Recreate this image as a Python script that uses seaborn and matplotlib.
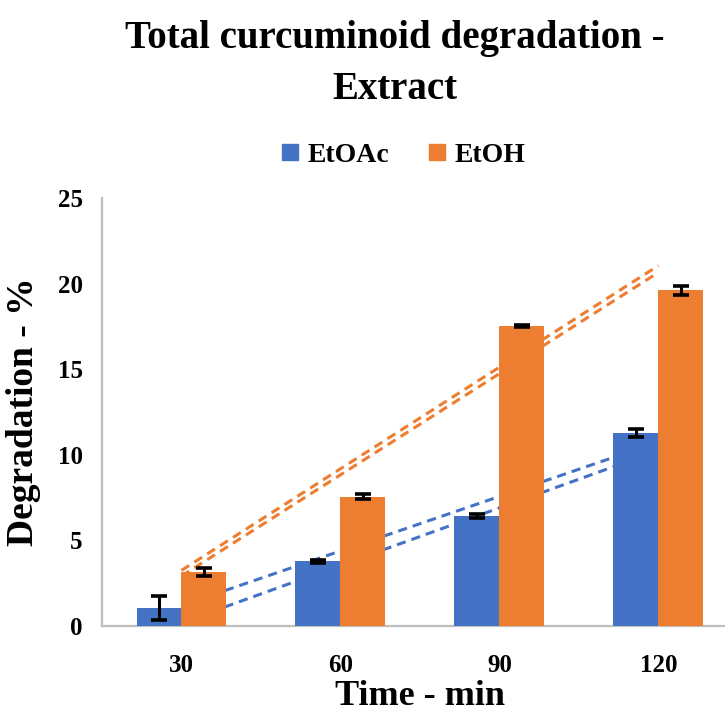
import matplotlib.pyplot as plt
import pandas as pd
import seaborn as sns
from matplotlib.lines import Line2D

# Data
times = ['30', '60', '90', '120']
etoac = [1.08, 3.78, 6.45, 11.27]
etoac_err = [0.70, 0.10, 0.12, 0.23]
etoh = [3.15, 7.55, 17.52, 19.60]
etoh_err = [0.23, 0.15, 0.08, 0.27]

# dashed trend lines (value at 30 min, value at 120 min), two per series
etoac_trend_hi = [1.20, 10.75]
etoac_trend_lo = [0.20, 10.25]
etoh_trend_hi = [3.25, 21.05]
etoh_trend_lo = [2.92, 20.65]

colors = ['#4472C4', '#ED7D31']
grey = '#BFBFBF'

df = pd.DataFrame({
    'Time': times * 2,
    'Degradation': etoac + etoh,
    'Solvent': ['EtOAc'] * 4 + ['EtOH'] * 4,
})

sns.set_style("white")
plt.rcParams['font.family'] = ['Liberation Serif', 'DejaVu Serif']
plt.rcParams['font.weight'] = 'bold'
plt.rcParams['text.color'] = 'black'
plt.rcParams['axes.labelcolor'] = 'black'
plt.rcParams['xtick.color'] = 'black'
plt.rcParams['ytick.color'] = 'black'

fig = plt.figure(figsize=(7.25, 7.18), dpi=100)
ax = fig.add_axes([0.1407, 0.1281, 0.877, 0.5961])

sns.barplot(data=df, x='Time', y='Degradation', hue='Solvent', order=times,
            palette=colors, width=0.566, errorbar=None, legend=False,
            saturation=1, ax=ax, zorder=3, linewidth=0)

# error bars at the bar centres
errs = [etoac_err, etoh_err]
vals = [etoac, etoh]
for cont, e, v in zip(ax.containers, errs, vals):
    xs = [p.get_x() + p.get_width() / 2 for p in cont]
    ax.errorbar(xs, v, yerr=e, fmt='none', ecolor='black', elinewidth=2.2,
                capsize=6, capthick=2.6, zorder=5)

# trend lines behind the bars
for hi, lo, c in [(etoac_trend_hi, etoac_trend_lo, colors[0]),
                  (etoh_trend_hi, etoh_trend_lo, colors[1])]:
    for tr in (hi, lo):
        ax.plot([0, len(times) - 1], tr, color=c, linestyle=(0, (3, 2)),
                linewidth=2.2, zorder=2)

ax.set_xlim(-0.5, len(times) - 0.5)
ax.set_ylim(0, 25)
ax.set_yticks([0, 5, 10, 15, 20, 25])
ax.tick_params(axis='both', length=0, labelsize=18)
ax.tick_params(axis='x', pad=20)
ax.tick_params(axis='y', pad=14)
for lab in ax.get_xticklabels() + ax.get_yticklabels():
    lab.set_fontweight('bold')

for side in ['top', 'right']:
    ax.spines[side].set_visible(False)
for side in ['left', 'bottom']:
    ax.spines[side].set_color(grey)
    ax.spines[side].set_linewidth(1.6)

ax.set_xlabel('Time - min', fontsize=26, fontweight='bold', labelpad=2)
ax.set_ylabel('Degradation - %', fontsize=27, fontweight='bold', labelpad=12)

fig.text(0.545, 0.972, 'Total curcuminoid degradation -\nExtract',
         ha='center', va='top', fontsize=28, fontweight='bold', linespacing=1.5)

handles = [Line2D([], [], marker='s', linestyle='none', markersize=11.5,
                  markerfacecolor=c, markeredgecolor=c) for c in colors]
fig.legend(handles, ['EtOAc', 'EtOH'], loc='center', bbox_to_anchor=(0.555, 0.784),
           ncol=2, frameon=False, fontsize=20, handletextpad=0.25,
           columnspacing=1.3, handlelength=0.8)

fig.savefig('out.png', dpi=100)
